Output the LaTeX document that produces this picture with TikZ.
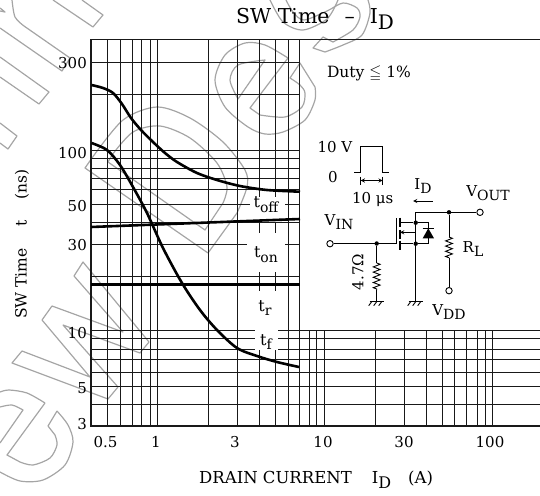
\documentclass[tikz,border=0pt]{standalone}
\usepackage{amsmath}
\usepackage{amssymb}
\usepackage{fontspec}
\setmainfont{DejaVu Serif}
\usepackage{tikz}
\usetikzlibrary{calc,positioning,decorations.pathmorphing,arrows}

\definecolor{wmgray}{RGB}{165,165,165}
\definecolor{inkblack}{RGB}{25,25,25}

\newcommand{\lowered}[2]{\raisebox{-0.3em}{\fontsize{#1}{#1}\selectfont #2}}

\tikzset{
  gridline/.style={inkblack,line width=0.9pt},
  frameline/.style={inkblack,line width=1.9pt},
  curveline/.style={black,line width=2.6pt},
  wmark/.style={wmgray,line width=1.2pt,line join=round},
  wire/.style={black,line width=0.9pt},
  reszig/.style={decorate,decoration={zigzag,amplitude=3.4pt,segment length=5.2pt}},
  jdot/.style={circle,fill=black,inner sep=0pt,minimum size=4.4pt},
  term/.style={circle,draw=black,line width=0.9pt,fill=white,inner sep=0pt,minimum size=6.4pt},
  ticktext/.style={inner sep=0pt,font=\fontsize{15}{15}\selectfont},
  cirtext/.style={inner sep=0pt,font=\fontsize{15}{15}\selectfont},
  curvetext/.style={inner sep=0pt,font=\fontsize{16}{16}\selectfont},
  gnd/.pic={
    \draw[wire] (-7,0) -- (7,0);
    \foreach \s in {-5,0,5} \draw[wire] (\s,0) -- ++(-3,4);
  }
}

\begin{document}
\begin{tikzpicture}[%
    x=1pt,y=-1pt,
    >=stealth
  ]
  \useasboundingbox (0,0) rectangle (540,495);

  % watermark
  \draw[wmark] (53,0) -- (93,27) -- (103,15) -- (82,0);
  \draw[wmark] plot[smooth] coordinates {(12,0) (15,17) (24,26)} -- (70,58) -- (62,71) -- (0,28);
  \draw[wmark] (0,57) -- (49,92) -- (39,104) -- (0,77);
  \draw[wmark] (0,123) -- (17,136) -- (8,149) -- (0,143);
  \draw[wmark] (0,8) -- (5,12) -- (0,11);
  \draw[wmark] (85,168) -- plot[smooth] coordinates {(92,158) (123,120) (157,107) (190,118) (223,142) (245,170) (247,187) (237,213)} -- (208,253) -- cycle;
  \draw[wmark] (108,162) -- plot[smooth] coordinates {(112,155) (133,132) (160,126) (190,138) (217,163) (227,187) (223,203)} -- (205,230) -- cycle;
  \draw[wmark] plot[smooth] coordinates {(288,58) (265,45) (245,43) (225,55) (215,80) (225,107) (248,127) (265,134) (283,132) (305,120) (315,100) (315,87)} -- (300,63) -- plot[smooth] coordinates {(290,78) (300,85) (305,93) (302,107) (285,117) (260,115)} -- (250,108) -- cycle;
  \draw[wmark] plot[smooth] coordinates {(238,99) (230,80) (238,65) (265,60)} -- cycle;
  \draw[wmark] plot[smooth] coordinates {(270,0) (283,22) (303,30) (327,19) (338,0)};
  \draw[wmark] plot[smooth] coordinates {(286,0) (293,12) (304,20) (327,11) (343,3) (357,8) (360,17) (353,30) (333,42)} -- (323,37) -- (313,48) -- plot[smooth] coordinates {(325,52) (343,45) (362,35) (370,13) (368,0)};
  \draw[wmark] (22,351) -- (90,377) -- (42,320) -- (52,306) -- (123,332) -- (74,276) -- (83,262) -- (149,342) -- (140,353) -- (63,325) -- (118,387) -- (108,399) -- (12,363) -- cycle;
  \draw[wmark] plot[smooth] coordinates {(57,411) (68,425) (73,442) (65,465) (43,480) (20,481) (0,472)};
  \draw[wmark] (57,411) -- (48,426) -- plot[smooth] coordinates {(55,435) (57,445) (50,458) (33,465) (20,462)} -- (7,455) -- (45,403);
  \draw[wmark] plot[smooth] coordinates {(0,392) (9,390) (27,393) (45,403)};
  \draw[wmark] plot[smooth] coordinates {(0,407) (12,405) (23,410)} -- (0,443);

  % grid, upper part
  \foreach \ypos in {62,94,150,158,168,178,189,222,276}
    \draw[gridline] (91,\ypos) -- (300,\ypos);
  \draw[gridline] (91,204) -- (250,204);
  \draw[gridline] (285,204) -- (300,204);
  \draw[gridline] (91,244) -- (247,244);
  \draw[gridline] (285,244) -- (300,244);
  % grid, lower part
  \foreach \ypos in {330,338,349}{
    \draw[gridline] (91,\ypos) -- (255,\ypos);
    \draw[gridline] (278,\ypos) -- (540,\ypos);
  }
  \foreach \ypos in {359,372,386,404}
    \draw[gridline] (91,\ypos) -- (540,\ypos);
  % verticals
  \foreach \xpos in {107,120,132,141.5,150,157,208,237,288,299.5}
    \draw[gridline] (\xpos,40) -- (\xpos,426);
  \foreach \xpos in {259,275}{
    \draw[gridline] (\xpos,40) -- (\xpos,197);
    \draw[gridline] (\xpos,222) -- (\xpos,233);
    \draw[gridline] (\xpos,272) -- (\xpos,291);
    \draw[gridline] (\xpos,350) -- (\xpos,426);
  }
  \foreach \xpos in {309.3,316.7,324.3,375.3,404.3,426,442,454.7,466.7,477.3,485,492.7}
    \draw[gridline] (\xpos,330) -- (\xpos,426);
  % frame
  \draw[frameline] (540,39.5) -- (91,39.5) -- (91,426) -- (540,426);

  % curves
  \draw[curveline] plot[smooth] coordinates {(91.5,85) (103,88) (113,93) (122,104) (131,118) (141,130) (153,142) (165,153) (177,162) (197,173) (217,180) (240,186) (267,190) (300,191.7)};
  \draw[curveline] plot[smooth] coordinates {(91.5,143) (107,150) (120,165) (133,187) (147,213) (163,248) (182,283) (200,310) (217,330) (237,348) (257,356) (277,362) (299,367)};
  \draw[curveline] (91,227) -- (300,219);
  \draw[curveline] (91,284.7) -- (300,284.7);

  % tick labels
  \node[ticktext,anchor=east] (y300) at (87,63) {300};
  \node[ticktext,anchor=east] (y100) at (87,153) {100};
  \node[ticktext,anchor=east] (y50) at (87,206) {50};
  \node[ticktext,anchor=east] (y30) at (87,245) {30};
  \node[ticktext,anchor=east] (y10) at (87,333) {10};
  \node[ticktext,anchor=east] (y5) at (87,388) {5};
  \node[ticktext,anchor=east] (y3) at (87,424) {3};
  \node[ticktext] (x05) at (105.5,442) {0.5};
  \node[ticktext] (x1) at (156,442) {1};
  \node[ticktext] (x3) at (235,442) {3};
  \node[ticktext] (x10) at (323,442) {10};
  \node[ticktext] (x30) at (404,442) {30};
  \node[ticktext] (x100) at (490,442) {100};

  % titles
  \node[inner sep=0pt,anchor=west,font=\fontsize{20.5}{20.5}\selectfont] (title) at (236,19) {SW Time\hspace{15pt}--\hspace{15pt}I\lowered{20}{D}};
  \node[inner sep=0pt,anchor=west,font=\fontsize{16.5}{16.5}\selectfont] (xlabel) at (199,480) {DRAIN CURRENT\hspace{20pt}I\lowered{16}{D}\hspace{17pt}(A)};
  \node[inner sep=0pt,rotate=90,anchor=west,font=\fontsize{15.5}{15.5}\selectfont] (ylabel) at (22,319) {SW Time\hspace{22pt}t\hspace{20pt}(ns)};
  \node[inner sep=0pt,font=\fontsize{15.5}{15.5}\selectfont] (duty) at (369,74) {Duty $\leqq$ 1\%};

  % curve labels
  \node[curvetext] (toff) at (266,205) {t\lowered{14}{off}};
  \node[curvetext] (ton) at (266,255) {t\lowered{14}{on}};
  \node[curvetext] (tr) at (265,308) {t\lowered{14}{r}};
  \node[curvetext] (tf) at (266,342) {t\lowered{14}{f}};

  % pulse
  \coordinate (p1) at (354,172.3);
  \coordinate (p2) at (360.7,172.3);
  \coordinate (p3) at (360.7,146);
  \coordinate (p4) at (382.7,146);
  \coordinate (p5) at (382.7,172.3);
  \coordinate (p6) at (389.3,172.3);
  \draw[wire] (p1) -- (p2) -- (p3) -- (p4) -- (p5) -- (p6);
  \coordinate (w1) at (360.7,180.5);
  \coordinate (w2) at (382.7,180.5);
  \draw[wire] ($(w1)+(0,-4)$) -- ($(w1)+(0,4)$);
  \draw[wire] ($(w2)+(0,-4)$) -- ($(w2)+(0,4)$);
  \draw[wire,<->] (w1) -- (w2);
  \node[cirtext] (lv10) at (335,147) {10 V};
  \node[cirtext] (lv0) at (333,177) {0};
  \node[cirtext] (lus) at (372.7,199) {10 μs};

  % circuit
  \node[term] (vin) at (330,243.7) {};
  \node[term] (vout) at (480,212.3) {};
  \node[term] (vdd) at (449,290.7) {};
  \node[jdot] (jg) at (376.7,243.5) {};
  \node[jdot] (jd) at (415.7,222.7) {};
  \node[jdot] (js) at (415.7,243.7) {};
  \node[jdot] (jo) at (449,212.3) {};
  \coordinate (top) at (415.7,212.3);
  \coordinate (gate) at (396,243.7);
  \coordinate (gatetop) at (396,217.7);
  \coordinate (gndg) at (376.7,301.7);
  \coordinate (gnds) at (415.7,301.7);
  \coordinate (rg1) at (376.7,263);
  \coordinate (rg2) at (376.7,290);
  \coordinate (rl1) at (449,237);
  \coordinate (rl2) at (449,258);
  \coordinate (dtop) at (428.3,222.7);
  \coordinate (dbot) at (428.3,243.7);

  \draw[wire] (vin) -- (gate) -- (gatetop);
  \draw[wire] (top) -- (vout);
  \draw[wire] (top) -- (gnds);
  \draw[wire,line width=1.3pt] (400,217.7) -- (400,226.5);
  \draw[wire,line width=1.3pt] (400,229.5) -- (400,238.5);
  \draw[wire,line width=1.3pt] (400,240.5) -- (400,250);
  \draw[wire] (400,222.7) -- (jd);
  \draw[wire] (400,243.7) -- (js);
  \draw[wire,<-] (400,232.3) -- (415.7,232.3);
  \draw[wire] (jd) -- (dtop) -- (dbot) -- (js);
  \draw[wire] (422.7,228.3) -- (434,228.3);
  \fill[black] (428.3,228.3) -- (434,238.3) -- (422.7,238.3) -- cycle;
  \draw[wire] (jg) -- (rg1);
  \draw[wire,reszig] (rg1) -- (rg2);
  \draw[wire] (rg2) -- (gndg);
  \draw[wire] (jo) -- (rl1);
  \draw[wire,reszig] (rl1) -- (rl2);
  \draw[wire] (rl2) -- (vdd);
  \pic at (gndg) {gnd};
  \pic at (gnds) {gnd};

  \coordinate (ia) at (432.7,201);
  \coordinate (ib) at (413,201);
  \draw[wire,->] (ia) -- (ib);
  \node[cirtext] (lid) at (423,186) {I\lowered{14}{D}};
  \node[cirtext] (lvout) at (488,193) {V\lowered{14}{OUT}};
  \node[cirtext] (lvin) at (339,222) {V\lowered{14}{IN}};
  \node[cirtext] (lrl) at (473,249) {R\lowered{14}{L}};
  \node[cirtext] (lvdd) at (449,312) {V\lowered{14}{DD}};
  \node[cirtext,rotate=90] (lrg) at (358,272) {4.7Ω};
\end{tikzpicture}
\end{document}
